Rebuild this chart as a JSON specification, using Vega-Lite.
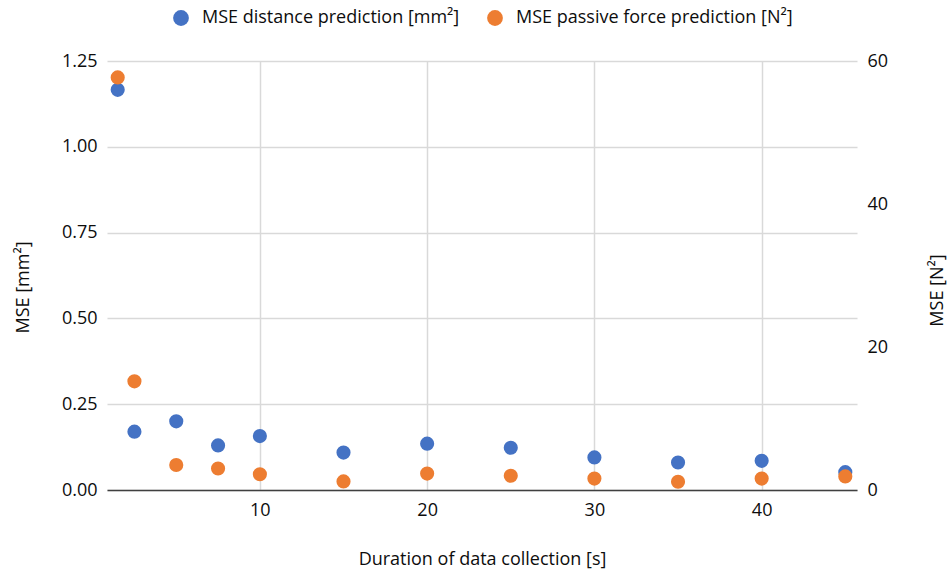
{
  "$schema": "https://vega.github.io/schema/vega-lite/v6.json",
  "autosize": {"type": "none"},
  "width": 750,
  "height": 429,
  "padding": {"left": 107, "top": 61, "right": 90, "bottom": 81},
  "background": "white",
  "config": {
    "view": {"stroke": null},
    "font": "Open Sans",
    "axis": {"labelFont": "Open Sans", "titleFont": "Open Sans", "labelFontSize": 18, "titleFontSize": 18, "labelColor": "#0d0d0d", "titleColor": "#0d0d0d", "titleFontWeight": "normal", "ticks": false, "gridColor": "#d9d9d9", "gridWidth": 1.5}
  },
  "data": {
    "values": [
      {"t": 1.5, "series": "MSE distance prediction [mm²]", "mse": 1.166},
      {"t": 2.5, "series": "MSE distance prediction [mm²]", "mse": 0.170},
      {"t": 5, "series": "MSE distance prediction [mm²]", "mse": 0.200},
      {"t": 7.5, "series": "MSE distance prediction [mm²]", "mse": 0.130},
      {"t": 10, "series": "MSE distance prediction [mm²]", "mse": 0.157},
      {"t": 15, "series": "MSE distance prediction [mm²]", "mse": 0.109},
      {"t": 20, "series": "MSE distance prediction [mm²]", "mse": 0.135},
      {"t": 25, "series": "MSE distance prediction [mm²]", "mse": 0.123},
      {"t": 30, "series": "MSE distance prediction [mm²]", "mse": 0.095},
      {"t": 35, "series": "MSE distance prediction [mm²]", "mse": 0.080},
      {"t": 40, "series": "MSE distance prediction [mm²]", "mse": 0.085},
      {"t": 45, "series": "MSE distance prediction [mm²]", "mse": 0.052},
      {"t": 1.5, "series": "MSE passive force prediction [N²]", "mse": 57.7},
      {"t": 2.5, "series": "MSE passive force prediction [N²]", "mse": 15.2},
      {"t": 5, "series": "MSE passive force prediction [N²]", "mse": 3.5},
      {"t": 7.5, "series": "MSE passive force prediction [N²]", "mse": 3.0},
      {"t": 10, "series": "MSE passive force prediction [N²]", "mse": 2.2},
      {"t": 15, "series": "MSE passive force prediction [N²]", "mse": 1.2},
      {"t": 20, "series": "MSE passive force prediction [N²]", "mse": 2.3},
      {"t": 25, "series": "MSE passive force prediction [N²]", "mse": 2.0},
      {"t": 30, "series": "MSE passive force prediction [N²]", "mse": 1.6},
      {"t": 35, "series": "MSE passive force prediction [N²]", "mse": 1.16},
      {"t": 40, "series": "MSE passive force prediction [N²]", "mse": 1.6},
      {"t": 45, "series": "MSE passive force prediction [N²]", "mse": 1.9}
    ]
  },
  "encoding": {
    "x": {
      "field": "t", "type": "quantitative",
      "scale": {"domain": [0.86, 45.7], "nice": false, "zero": false},
      "axis": {"values": [10, 20, 30, 40], "title": "Duration of data collection [s]", "grid": true, "domain": true, "domainColor": "#404040", "domainWidth": 1.5, "labelPadding": 11, "titleX": 375, "titleY": 69, "titleBaseline": "middle", "titleAlign": "center"}
    },
    "color": {
      "field": "series", "type": "nominal",
      "scale": {"domain": ["MSE distance prediction [mm²]", "MSE passive force prediction [N²]"], "range": ["#4472C4", "#ED7D31"]},
      "legend": {"title": null, "orient": "none", "direction": "horizontal", "legendX": 65, "legendY": -52, "symbolType": "circle", "symbolSize": 250, "symbolOpacity": 1, "labelFontSize": 18, "labelFont": "Open Sans", "labelColor": "#0d0d0d", "labelOffset": 12, "columnPadding": 26, "labelLimit": 450}
    }
  },
  "layer": [
    {
      "transform": [{"filter": "datum.series === 'MSE distance prediction [mm²]'"}],
      "mark": {"type": "point", "filled": true, "opacity": 1, "size": 200, "shape": "circle"},
      "encoding": {
        "y": {
          "field": "mse", "type": "quantitative",
          "scale": {"domain": [0, 1.25], "nice": false},
          "axis": {"values": [0, 0.25, 0.5, 0.75, 1, 1.25], "format": ".2f", "title": "MSE [mm²]", "grid": true, "domain": false, "labelPadding": 10, "titleAngle": -90, "titleX": -84, "titleY": 226, "titleAlign": "center", "titleBaseline": "middle"}
        }
      }
    },
    {
      "transform": [{"filter": "datum.series === 'MSE passive force prediction [N²]'"}],
      "mark": {"type": "point", "filled": true, "opacity": 1, "size": 200, "shape": "circle"},
      "encoding": {
        "y": {
          "field": "mse", "type": "quantitative",
          "scale": {"domain": [0, 60], "nice": false},
          "axis": {"orient": "right", "values": [0, 20, 40, 60], "title": "MSE [N²]", "grid": false, "domain": false, "labelPadding": 10, "titleAngle": -90, "titleX": 80, "titleY": 229, "titleAlign": "center", "titleBaseline": "middle"}
        }
      }
    }
  ],
  "resolve": {"scale": {"y": "independent"}}
}
